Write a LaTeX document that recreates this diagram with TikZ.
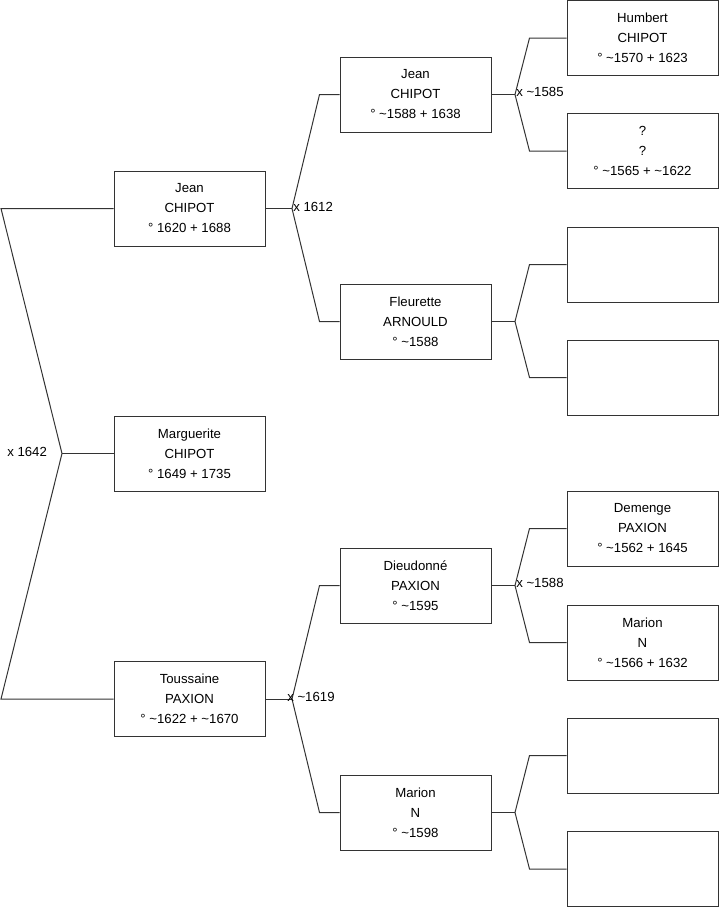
\documentclass[tikz,border=0pt]{standalone}
\usepackage{fontspec}
\setmainfont{Liberation Sans}
\usetikzlibrary{calc}
\begin{document}
\begin{tikzpicture}[x=0.75pt,y=-0.75pt,
  person/.style={draw=black!80,line width=0.75pt,fill=white,rectangle,minimum width=113.25pt,minimum height=56.25pt,align=center,font=\fontsize{9.9pt}{15pt}\selectfont,inner sep=0pt},
  link/.style={draw=black!80,line width=0.75pt},
  mlabel/.style={font=\fontsize{9.9pt}{11pt}\selectfont,inner sep=0pt}]
\useasboundingbox (0,0) rectangle (719,908);
% level 1
\node[person] (g1a) at (189.5,208.5) {Jean\\CHIPOT\\° 1620 + 1688};
\node[person] (g1b) at (189.5,453.5) {Marguerite\\CHIPOT\\° 1649 + 1735};
\node[person] (g1c) at (189.5,699) {Toussaine\\PAXION\\° \textasciitilde1622 + \textasciitilde1670};
% level 2
\node[person] (g2a) at (415.5,94.5) {Jean\\CHIPOT\\° \textasciitilde1588 + 1638};
\node[person] (g2b) at (415.5,321.5) {Fleurette\\ARNOULD\\° \textasciitilde1588};
\node[person] (g2c) at (415.5,585.5) {Dieudonné\\PAXION\\° \textasciitilde1595};
\node[person] (g2d) at (415.5,812.5) {Marion\\N\\° \textasciitilde1598};
% level 3
\node[person] (g3a) at (642.5,38) {Humbert\\CHIPOT\\° \textasciitilde1570 + 1623};
\node[person] (g3b) at (642.5,151) {?\\?\\° \textasciitilde1565 + \textasciitilde1622};
\node[person] (g3c) at (642.5,264.5) {};
\node[person] (g3d) at (642.5,377.5) {};
\node[person] (g3e) at (642.5,528.5) {Demenge\\PAXION\\° \textasciitilde1562 + 1645};
\node[person] (g3f) at (642.5,642.5) {Marion\\N\\° \textasciitilde1566 + 1632};
\node[person] (g3g) at (642.5,755.5) {};
\node[person] (g3h) at (642.5,869) {};
% fork points
\coordinate (r0) at (62,453.5);
\coordinate (rU) at (1,208.5);
\coordinate (rD) at (1,699);
\coordinate (f1) at (292,208.5);
\coordinate (f2) at (292,699);
\coordinate (f3) at (515,94.5);
\coordinate (f4) at (515,321.5);
\coordinate (f5) at (515,585.5);
\coordinate (f6) at (515,812.5);
% root fork
\draw[link] (g1a.west) -- (rU) -- (r0) -- (rD) -- (g1c.west);
\draw[link] (r0) -- (g1b.west);
% level 1 -> 2
\draw[link] (g1a.east) -- (f1);
\draw[link] (g2a.west) -- ++(-20,0) -- (f1) -- ($(g2b.west)+(-20,0)$) -- (g2b.west);
\draw[link] (g1c.east) -- (f2);
\draw[link] (g2c.west) -- ++(-20,0) -- (f2) -- ($(g2d.west)+(-20,0)$) -- (g2d.west);
% level 2 -> 3
\draw[link] (g2a.east) -- (f3);
\draw[link] (g3a.west) -- ++(-37,0) -- (f3) -- ($(g3b.west)+(-37,0)$) -- (g3b.west);
\draw[link] (g2b.east) -- (f4);
\draw[link] (g3c.west) -- ++(-37,0) -- (f4) -- ($(g3d.west)+(-37,0)$) -- (g3d.west);
\draw[link] (g2c.east) -- (f5);
\draw[link] (g3e.west) -- ++(-37,0) -- (f5) -- ($(g3f.west)+(-37,0)$) -- (g3f.west);
\draw[link] (g2d.east) -- (f6);
\draw[link] (g3g.west) -- ++(-37,0) -- (f6) -- ($(g3h.west)+(-37,0)$) -- (g3h.west);
% marriage labels
\node[mlabel,anchor=west] (m0) at (7,451.5) {x 1642};
\node[mlabel,anchor=west] (m1) at (293,207) {x 1612};
\node[mlabel,anchor=west] (m2) at (287,697) {x \textasciitilde1619};
\node[mlabel,anchor=west] (m3) at (516,92) {x \textasciitilde1585};
\node[mlabel,anchor=west] (m4) at (516,583) {x \textasciitilde1588};
\end{tikzpicture}
\end{document}
